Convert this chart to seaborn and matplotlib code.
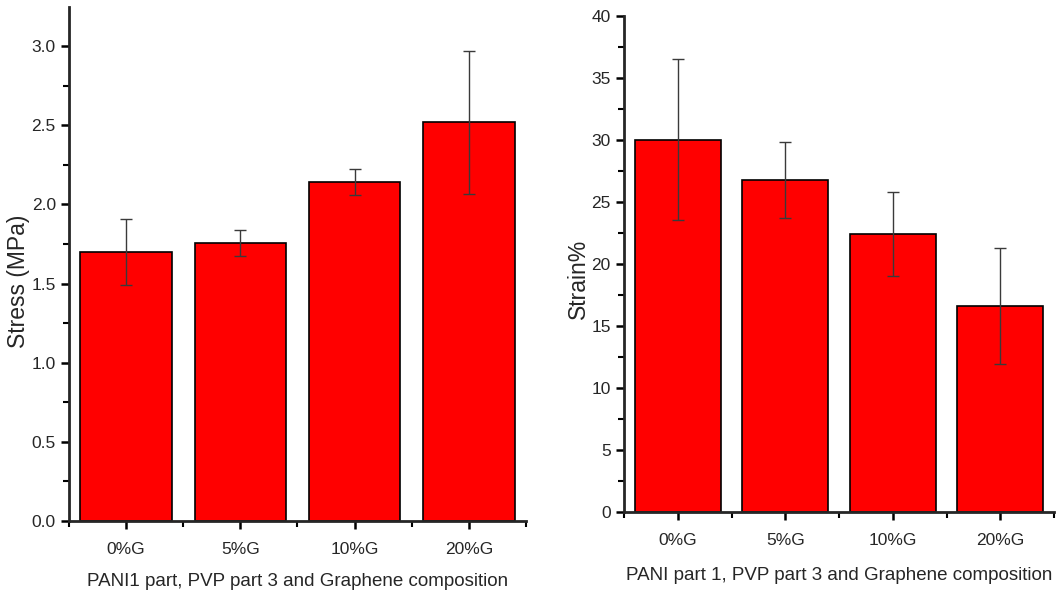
import numpy as np
import pandas as pd
import matplotlib
matplotlib.use("Agg")
import matplotlib.pyplot as plt
from matplotlib.ticker import MultipleLocator, FormatStrFormatter
import seaborn as sns

categories = ["0%G", "5%G", "10%G", "20%G"]
stress = [1.70, 1.756, 2.141, 2.518]
stress_err = [0.21, 0.083, 0.080, 0.452]
strain = [30.05, 26.77, 22.41, 16.65]
strain_err = [6.51, 3.05, 3.39, 4.68]

sns.set_style("ticks")
plt.rcParams["font.family"] = ["Liberation Sans", "DejaVu Sans"]

fig = plt.figure(figsize=(10.6, 5.98), dpi=100)
ax1 = fig.add_axes([0.0651, 0.1288, 0.4311, 0.8595])
ax2 = fig.add_axes([0.5887, 0.1438, 0.4057, 0.8289])


def draw(ax, vals, errs, ylabel, xlabel, ymax, major, minor):
    df = pd.DataFrame({"comp": categories, "val": vals})
    sns.barplot(data=df, x="comp", y="val", color="#ff0000", saturation=1,
                width=0.8, edgecolor="black", linewidth=1.2, errorbar=None, ax=ax)
    ax.errorbar(x=np.arange(len(vals)), y=vals, yerr=errs, fmt="none",
                ecolor="#3a3a3a", elinewidth=1, capsize=4, capthick=1)
    ax.set_xlim(-0.5, 3.5)
    ax.set_ylim(0, ymax)
    ax.yaxis.set_major_locator(MultipleLocator(major))
    ax.yaxis.set_minor_locator(MultipleLocator(minor))
    ax.set_xticks(np.arange(-0.5, 4, 1), minor=True)
    sns.despine(ax=ax)
    for s in ["left", "bottom"]:
        ax.spines[s].set_linewidth(2)
    ax.tick_params(which="major", length=6, width=1.8, labelsize=12.5, color="black")
    ax.tick_params(which="minor", length=4, width=1.5, color="black")
    ax.tick_params(axis="x", which="major", pad=9)
    ax.set_ylabel(ylabel, fontsize=16.5)
    ax.set_xlabel(xlabel, fontsize=13.5, labelpad=12)


draw(ax1, stress, stress_err, "Stress (MPa)",
     "PANI1 part, PVP part 3 and Graphene composition", 3.247, 0.5, 0.25)
ax1.yaxis.set_major_formatter(FormatStrFormatter("%.1f"))
ax1.yaxis.set_label_coords(-0.085, 0.467)
draw(ax2, strain, strain_err, "Strain%",
     "PANI part 1, PVP part 3 and Graphene composition", 40, 5, 2.5)
ax2.yaxis.set_label_coords(-0.08, 0.47)
ax2.xaxis.set_label_coords(0.5, -0.11)

fig.savefig("out.png", dpi=100)
